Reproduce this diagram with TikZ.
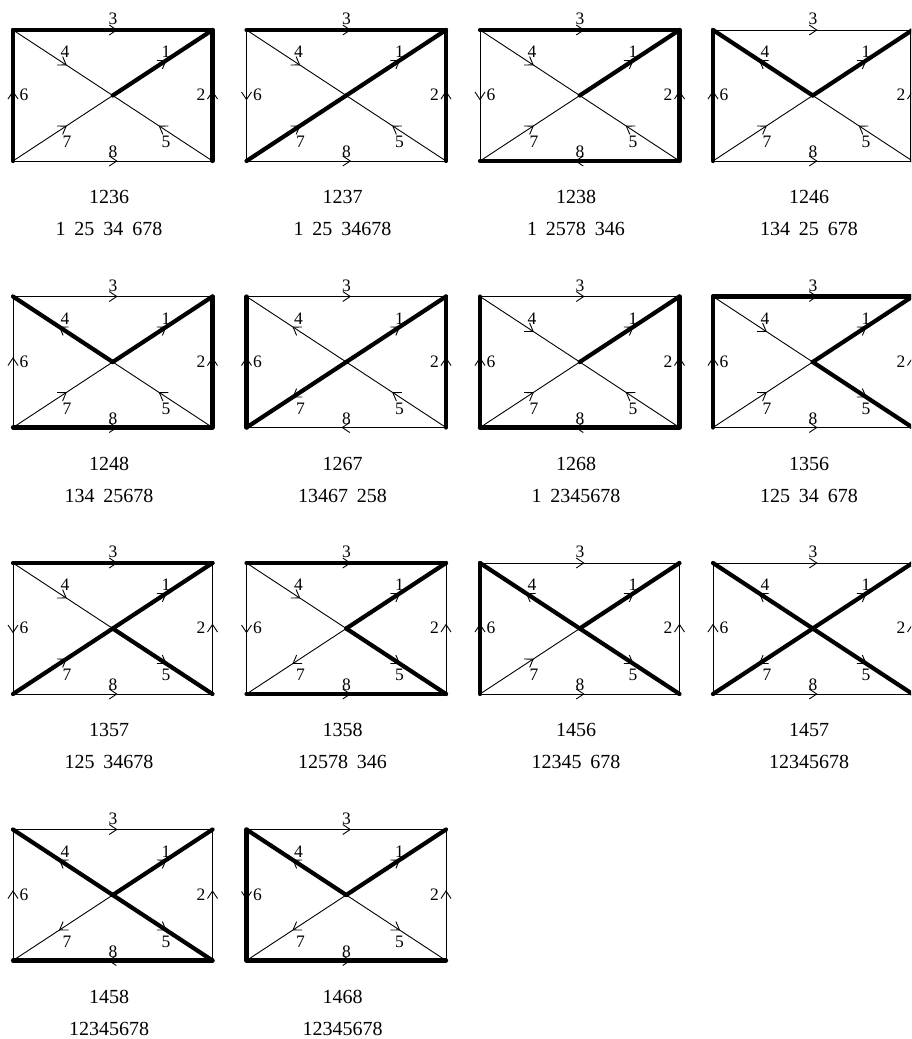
\documentclass[tikz,border=0pt]{standalone}
\usepackage{fontspec}
\setmainfont{Liberation Serif}
\usetikzlibrary{decorations.markings}
\tikzset{
  lt/.style={line width=0.9pt},
  hv/.style={line width=4.2pt, line cap=round},
  arrowedge/.style={postaction={decorate}, decoration={markings,
      mark=at position 0.5 with {\draw[line width=0.9pt, line cap=butt, line join=miter]
        (-3.5pt,5pt) -- (4pt,0pt) -- (-3.5pt,-5pt);}}},
  elab/.style={font=\fontsize{17.5}{19}\selectfont, inner sep=0pt},
  captxt/.style={font=\fontsize{20}{22}\selectfont, inner sep=0pt},
}
\newcommand\pgap{\hspace{0.45em}}
\newcommand\Panel[6]{%
  \begin{scope}[shift={(#1,#2)}]
    \coordinate (#3TL) at (0,0);
    \coordinate (#3TR) at (199.5,0);
    \coordinate (#3BL) at (0,131);
    \coordinate (#3BR) at (199.5,131);
    \coordinate (#3C)  at (99.75,65.5);
    \foreach \a/\b/\w in {#6} {\draw[\w, arrowedge] (#3\a) -- (#3\b);}
    \node[elab] (#3la) at (153,22) {1};
    \node[elab] (#3lb) at (188,65) {2};
    \node[elab] (#3lc) at (100,-11) {3};
    \node[elab] (#3ld) at (52,22) {4};
    \node[elab] (#3le) at (153,112) {5};
    \node[elab] (#3lf) at (11,65) {6};
    \node[elab] (#3lg) at (54,112) {7};
    \node[elab] (#3lh) at (100,122) {8};
    \node[captxt] (#3cap) at (96,167) {#4};
    \node[captxt] (#3part) at (96,199) {#5};
  \end{scope}}
\begin{document}
\begin{tikzpicture}[x=1pt,y=-1pt]
\fill[white] (0,0) rectangle (911,1039);
\useasboundingbox (0,0) rectangle (911,1039);
\clip (0,0) rectangle (911,1039);
% row 1
\Panel{13}{30}{pa}{1236}{1\pgap 25\pgap 34\pgap 678}
 {TL/C/lt, BR/C/lt, BL/C/lt, BL/BR/lt, C/TR/hv, BR/TR/hv, TL/TR/hv, BL/TL/hv}
\Panel{246.5}{30}{pb}{1237}{1\pgap 25\pgap 34678}
 {TL/C/lt, BR/C/lt, TL/BL/lt, BL/BR/lt, C/TR/hv, BR/TR/hv, TL/TR/hv, BL/C/hv}
\Panel{480}{30}{pc}{1238}{1\pgap 2578\pgap 346}
 {TL/C/lt, BR/C/lt, TL/BL/lt, BL/C/lt, C/TR/hv, BR/TR/hv, TL/TR/hv, BR/BL/hv}
\Panel{713}{30}{pd}{1246}{134\pgap 25\pgap 678}
 {TL/TR/lt, BR/C/lt, BL/C/lt, BL/BR/lt, C/TR/hv, BR/TR/hv, C/TL/hv, BL/TL/hv}
% row 2
\Panel{13}{296.5}{pe}{1248}{134\pgap 25678}
 {TL/TR/lt, BR/C/lt, BL/TL/lt, BL/C/lt, C/TR/hv, BR/TR/hv, C/TL/hv, BL/BR/hv}
\Panel{246.5}{296.5}{pf}{1267}{13467\pgap 258}
 {TL/TR/lt, C/TL/lt, BR/C/lt, BR/BL/lt, C/TR/hv, BR/TR/hv, BL/TL/hv, C/BL/hv}
\Panel{480}{296.5}{pg}{1268}{1\pgap 2345678}
 {TL/TR/lt, TL/C/lt, BR/C/lt, BL/C/lt, C/TR/hv, BR/TR/hv, BL/TL/hv, BR/BL/hv}
\Panel{713}{296.5}{ph}{1356}{125\pgap 34\pgap 678}
 {BR/TR/lt, TL/C/lt, BL/C/lt, BL/BR/lt, C/TR/hv, TL/TR/hv, C/BR/hv, BL/TL/hv}
% row 3
\Panel{13}{563}{pi}{1357}{125\pgap 34678}
 {BR/TR/lt, TL/C/lt, TL/BL/lt, BL/BR/lt, C/TR/hv, TL/TR/hv, C/BR/hv, BL/C/hv}
\Panel{246.5}{563}{pj}{1358}{12578\pgap 346}
 {BR/TR/lt, TL/C/lt, TL/BL/lt, C/BL/lt, C/TR/hv, TL/TR/hv, C/BR/hv, BL/BR/hv}
\Panel{480}{563}{pk}{1456}{12345\pgap 678}
 {BR/TR/lt, TL/TR/lt, BL/C/lt, BL/BR/lt, C/TR/hv, C/TL/hv, C/BR/hv, BL/TL/hv}
\Panel{713}{563}{pl}{1457}{12345678}
 {BR/TR/lt, TL/TR/lt, BL/TL/lt, BL/BR/lt, C/TR/hv, C/TL/hv, C/BR/hv, C/BL/hv}
% row 4
\Panel{13}{829.5}{pm}{1458}{12345678}
 {BR/TR/lt, TL/TR/lt, BL/TL/lt, C/BL/lt, C/TR/hv, C/TL/hv, C/BR/hv, BR/BL/hv}
\Panel{246.5}{829.5}{pn}{1468}{12345678}
 {BR/TR/lt, TL/TR/lt, C/BR/lt, C/BL/lt, C/TR/hv, C/TL/hv, TL/BL/hv, BL/BR/hv}
\end{tikzpicture}
\end{document}
